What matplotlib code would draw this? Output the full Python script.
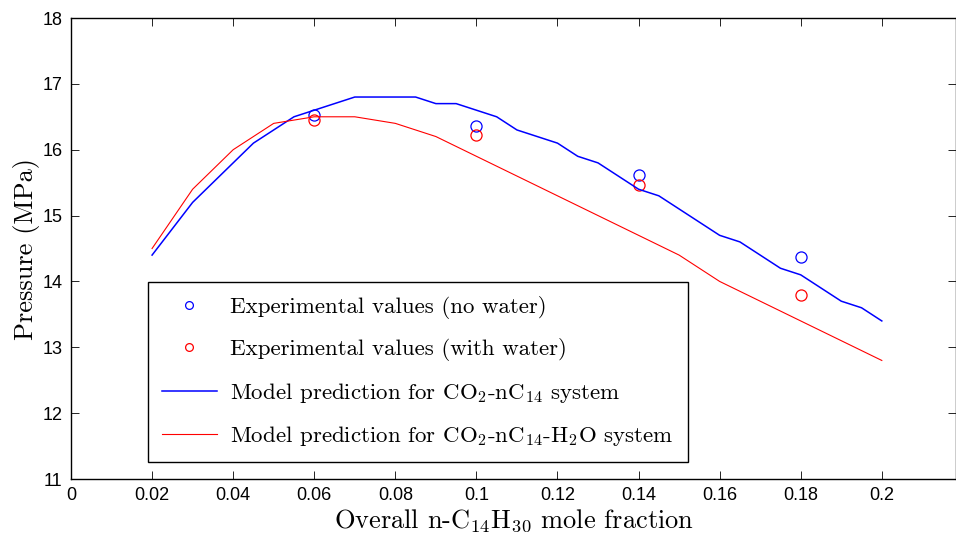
import matplotlib.pyplot as plt

plt.rcParams['mathtext.fontset'] = 'cm'
plt.rcParams['axes.unicode_minus'] = False

# model curves
x_model = [0.02, 0.03, 0.04, 0.045, 0.05, 0.055, 0.06, 0.065, 0.07, 0.075, 0.08,
           0.085, 0.09, 0.095, 0.1, 0.105, 0.11, 0.115, 0.12, 0.125, 0.13, 0.135,
           0.14, 0.145, 0.15, 0.155, 0.16, 0.165, 0.17, 0.175, 0.18, 0.185, 0.19,
           0.195, 0.2]
p_no_water = [14.4, 15.2, 15.8, 16.1, 16.3, 16.5, 16.6, 16.7, 16.8, 16.8, 16.8,
              16.8, 16.7, 16.7, 16.6, 16.5, 16.3, 16.2, 16.1, 15.9, 15.8, 15.6,
              15.4, 15.3, 15.1, 14.9, 14.7, 14.6, 14.4, 14.2, 14.1, 13.9, 13.7,
              13.6, 13.4]

x_water = [0.02, 0.03, 0.04, 0.05, 0.06, 0.07, 0.08, 0.09, 0.1, 0.11, 0.12,
           0.13, 0.14, 0.15, 0.16, 0.17, 0.18, 0.19, 0.2]
p_water = [14.5, 15.4, 16.0, 16.4, 16.5, 16.5, 16.4, 16.2, 15.9, 15.6, 15.3,
           15.0, 14.7, 14.4, 14.0, 13.7, 13.4, 13.1, 12.8]

# experimental points
x_exp = [0.06, 0.1, 0.14, 0.18]
exp_no_water = [16.53, 16.36, 15.62, 14.37]
exp_water = [16.45, 16.22, 15.46, 13.79]

xticks = [0, 0.02, 0.04, 0.06, 0.08, 0.1, 0.12, 0.14, 0.16, 0.18, 0.2]
xtick_labels = ['0', '0.02', '0.04', '0.06', '0.08', '0.1', '0.12', '0.14', '0.16', '0.18', '0.2']
yticks = [11, 12, 13, 14, 15, 16, 17, 18]

W, H = 956, 539
fig = plt.figure(figsize=(W / 100, H / 100), dpi=100)
ax = fig.add_axes([71 / W, (H - 479) / H, (956 - 71) / W, (479 - 18) / H])

serif = 'cmr10'
ax.plot(x_exp, exp_no_water, 'o', mfc='none', mec='blue', ms=8, mew=0.9,
        label='Experimental values (no water)')
ax.plot(x_exp, exp_water, 'o', mfc='none', mec='red', ms=8, mew=0.9,
        label='Experimental values (with water)')
ax.plot(x_model, p_no_water, '-', color='blue', lw=1.1,
        label=r'Model prediction for CO$_2$-nC$_{14}$ system')
ax.plot(x_water, p_water, '-', color='red', lw=0.8,
        label=r'Model prediction for CO$_2$-nC$_{14}$-H$_2$O system')

ax.set_xlim(0, 0.2183)
ax.set_ylim(11, 18)
ax.set_xticks(xticks)
ax.set_xticklabels(xtick_labels)
ax.set_yticks(yticks)
ax.tick_params(direction='in', length=6, width=0.6, top=True, right=True,
               labelsize=13, pad=6)
for lab in ax.get_xticklabels() + ax.get_yticklabels():
    lab.set_family(['Liberation Sans', 'DejaVu Sans'])
for s in ax.spines.values():
    s.set_linewidth(1.0)

ax.set_xlabel(r'Overall n-C$_{14}$H$_{30}$ mole fraction', family=serif,
              fontsize=19, labelpad=2)
ax.set_ylabel('Pressure (MPa)', family=serif, fontsize=19, labelpad=2)

leg = ax.legend(loc='upper left', bbox_to_anchor=(148 / W, 1 - 282 / H),
                bbox_transform=fig.transFigure, prop={'family': serif, 'size': 16.5},
                handlelength=2.4, handletextpad=0.6, borderpad=0.6,
                borderaxespad=0, labelspacing=0.85, markerscale=0.7,
                fancybox=False, framealpha=1, edgecolor='black')
leg.get_frame().set_linewidth(1.0)

fig.savefig('out.png', dpi=100)
